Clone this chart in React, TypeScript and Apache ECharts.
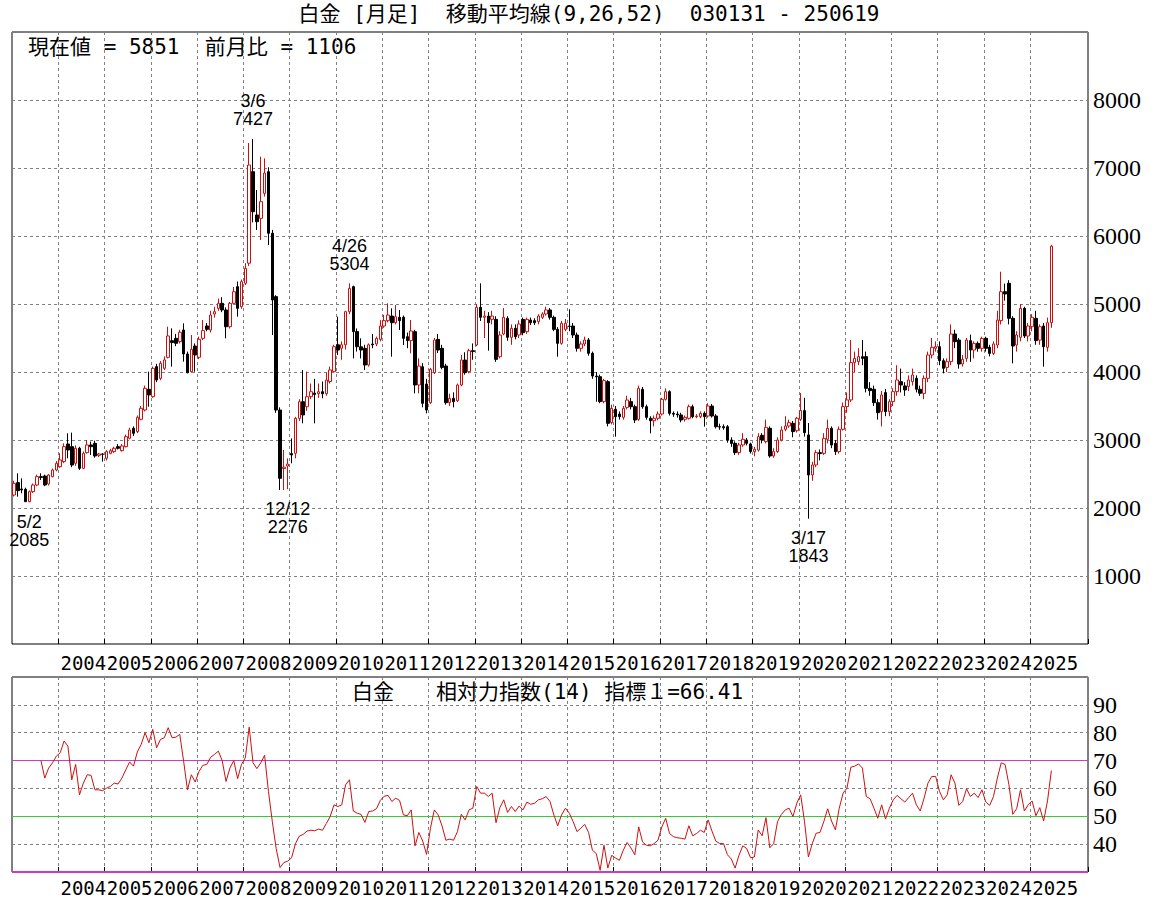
import React, { useEffect, useRef } from "react";
import * as echarts from "echarts";

// ---- data: monthly candles [open, close, low, high] ----
const y2003 = [
  [2191, 2363, 2170, 2400], [2373, 2255, 2167, 2510], [2280, 2265, 2216, 2436], [2275, 2093, 2090, 2300],
  [2093, 2240, 2085, 2260], [2240, 2338, 2220, 2360], [2338, 2461, 2320, 2490], [2461, 2450, 2412, 2510],
  [2471, 2338, 2320, 2490], [2353, 2485, 2330, 2500], [2461, 2559, 2450, 2580], [2559, 2657, 2540, 2690],
];
const y2004 = [
  [2608, 2706, 2590, 2804], [2682, 2902, 2660, 2951], [2941, 2853, 2731, 3098], [2902, 2632, 2600, 3108],
  [2657, 2878, 2620, 2920], [2878, 2584, 2559, 2900], [2584, 2804, 2570, 2830], [2814, 2927, 2800, 3000],
  [2927, 2902, 2779, 2976], [2951, 2765, 2740, 2990], [2775, 2794, 2750, 2810], [2794, 2790, 2682, 2804],
];
const y2005 = [
  [2731, 2829, 2700, 2850], [2804, 2843, 2790, 2870], [2829, 2878, 2810, 2900], [2902, 2878, 2860, 2940],
  [2843, 2912, 2830, 2940], [2902, 3049, 2890, 3080], [3025, 3147, 3010, 3180], [3172, 3098, 3060, 3200],
  [3123, 3333, 3100, 3360], [3304, 3466, 3290, 3500], [3441, 3760, 3420, 3800], [3745, 3662, 3490, 4005],
];
const y2006 = [
  [3637, 4054, 3620, 4080], [4079, 3883, 3850, 4120], [3907, 4128, 3880, 4160], [4054, 4177, 4030, 4230],
  [4216, 4530, 4200, 4667], [4461, 4432, 4079, 4642], [4495, 4422, 4380, 4560], [4446, 4584, 4420, 4620],
  [4618, 4265, 4152, 4716], [4265, 3990, 3980, 4300], [4005, 4334, 3990, 4544], [4382, 4250, 4005, 4420],
];
const y2007 = [
  [4216, 4481, 4190, 4520], [4495, 4608, 4470, 4765], [4677, 4628, 4600, 4720], [4618, 4838, 4580, 4900],
  [4853, 4887, 4800, 4960], [4936, 5010, 4900, 5080], [5010, 4912, 4880, 5100], [4912, 4666, 4495, 4950],
  [4666, 5010, 4640, 5030], [5010, 5181, 4990, 5250], [5255, 4936, 4814, 5330], [4960, 5328, 4930, 5360],
];
const y2008 = [
  [5304, 5525, 5280, 5600], [5600, 7044, 5560, 7368], [6946, 6357, 6200, 7427], [6309, 6210, 6088, 6676],
  [6260, 6505, 5941, 7167], [6627, 6925, 6580, 7142], [6946, 6040, 5868, 7010], [6040, 5059, 4544, 6090],
  [5108, 3441, 3400, 5130], [3441, 2437, 2265, 3480], [2580, 2600, 2265, 2853], [2617, 2647, 2276, 2730],
];
const y2009 = [
  [2800, 2780, 2657, 3024], [2804, 3319, 2730, 3340], [3319, 3563, 3280, 3600], [3563, 3368, 3245, 4029],
  [3490, 3637, 3430, 4005], [3637, 3710, 3600, 3830], [3690, 3670, 3245, 3900], [3680, 3710, 3620, 3830],
  [3710, 3680, 3613, 3860], [3680, 3882, 3650, 3990], [3860, 4030, 3830, 4080], [4005, 4372, 3990, 4400],
];
const y2010 = [
  [4400, 4323, 4250, 4814], [4350, 4400, 4180, 4450], [4400, 4887, 4330, 4900], [4887, 5230, 4850, 5304],
  [5255, 4594, 4201, 5270], [4594, 4372, 4300, 4640], [4370, 4323, 4200, 4495], [4348, 4103, 4029, 4400],
  [4103, 4400, 4080, 4420], [4411, 4400, 4350, 4560], [4412, 4495, 4380, 4520], [4480, 4676, 4450, 4764],
];
const y2011 = [
  [4676, 4755, 4650, 4840], [4755, 4838, 4730, 5010], [4823, 4725, 4225, 4936], [4725, 4813, 4700, 4985],
  [4804, 4755, 4617, 4912], [4804, 4495, 4397, 4830], [4519, 4461, 4350, 4580], [4461, 4603, 4274, 4765],
  [4593, 3809, 3686, 4620], [3809, 4088, 3686, 4201], [4078, 3539, 3480, 4130], [3823, 3441, 3392, 3900],
];
const y2012 = [
  [3549, 4039, 3530, 4060], [3990, 4470, 3970, 4500], [4480, 4323, 4280, 4560], [4348, 4068, 4040, 4400],
  [4088, 3549, 3520, 4120], [3549, 3612, 3500, 3680], [3612, 3563, 3480, 3700], [3578, 3809, 3560, 3830],
  [3809, 4176, 3790, 4250], [4176, 3990, 3960, 4290], [4005, 4313, 3980, 4340], [4313, 4300, 4180, 4420],
];
const y2013 = [
  [4397, 4951, 4380, 5000], [4951, 4804, 4750, 5304], [4804, 4823, 4500, 4900], [4823, 4725, 4313, 4880],
  [4774, 4823, 4700, 4900], [4774, 4186, 4150, 4820], [4225, 4544, 4200, 4600], [4559, 4804, 4540, 4940],
  [4789, 4510, 4460, 4820], [4510, 4642, 4400, 4700], [4642, 4519, 4480, 4700], [4544, 4706, 4500, 4760],
];
const y2014 = [
  [4774, 4578, 4540, 4800], [4593, 4774, 4560, 4800], [4764, 4725, 4690, 4800], [4755, 4725, 4690, 4790],
  [4740, 4823, 4700, 4850], [4804, 4853, 4780, 4880], [4853, 4912, 4830, 4960], [4912, 4804, 4770, 4940],
  [4804, 4627, 4600, 4830], [4627, 4421, 4225, 4660], [4422, 4716, 4400, 4750], [4627, 4716, 4600, 4780],
];
const y2015 = [
  [4676, 4670, 4600, 4922], [4676, 4544, 4500, 4720], [4544, 4348, 4300, 4580], [4348, 4412, 4300, 4450],
  [4412, 4471, 4380, 4520], [4471, 4275, 4240, 4500], [4275, 3941, 3900, 4300], [3941, 3930, 3564, 4000],
  [3931, 3564, 3540, 3960], [3564, 3873, 3540, 3900], [3858, 3245, 3200, 3880], [3255, 3466, 3230, 3520],
];
const y2016 = [
  [3451, 3343, 3049, 3500], [3382, 3343, 3300, 3420], [3333, 3466, 3300, 3500], [3480, 3588, 3450, 3650],
  [3564, 3490, 3450, 3620], [3490, 3294, 3250, 3520], [3304, 3760, 3280, 3800], [3745, 3490, 3460, 3780],
  [3490, 3333, 3300, 3520], [3319, 3284, 3098, 3350], [3284, 3319, 3200, 3360], [3319, 3382, 3290, 3420],
];
const y2017 = [
  [3382, 3598, 3360, 3620], [3598, 3711, 3580, 3760], [3711, 3392, 3360, 3730], [3392, 3380, 3340, 3420],
  [3382, 3370, 3330, 3420], [3368, 3294, 3260, 3400], [3304, 3333, 3270, 3360], [3319, 3490, 3300, 3520],
  [3490, 3343, 3320, 3520], [3343, 3353, 3320, 3380], [3343, 3392, 3320, 3420], [3392, 3343, 3196, 3420],
];
const y2018 = [
  [3353, 3500, 3330, 3540], [3500, 3353, 3330, 3530], [3353, 3196, 3170, 3380], [3196, 3190, 3150, 3240],
  [3196, 3180, 3150, 3230], [3196, 3000, 2960, 3220], [3000, 2950, 2900, 3040], [2951, 2814, 2780, 2980],
  [2814, 2927, 2780, 2960], [2927, 3010, 2900, 3100], [3000, 2951, 2920, 3030], [2942, 2829, 2800, 2960],
];
const y2019 = [
  [2829, 2863, 2760, 2900], [2853, 3049, 2830, 3100], [3069, 3000, 2950, 3100], [2976, 3187, 2950, 3300],
  [3172, 2765, 2740, 3200], [2765, 2829, 2740, 2880], [2829, 3000, 2810, 3040], [3000, 3147, 2980, 3200],
  [3157, 3206, 3130, 3350], [3206, 3255, 3180, 3300], [3245, 3123, 3040, 3280], [3137, 3319, 3110, 3340],
];
const y2020 = [
  [3304, 3432, 3280, 3690], [3432, 3108, 3050, 3620], [3074, 2486, 1843, 3250], [2486, 2633, 2400, 2680],
  [2633, 2814, 2600, 2850], [2814, 2800, 2700, 2860], [2804, 3025, 2780, 3100], [3010, 3172, 2950, 3300],
  [3172, 2927, 2880, 3200], [2951, 2829, 2780, 3000], [2829, 3157, 2800, 3200], [3157, 3491, 3140, 3550],
];
const y2021 = [
  [3491, 3589, 3400, 3700], [3589, 4138, 3560, 4470], [4138, 4200, 4000, 4300], [4152, 4226, 4100, 4350],
  [4226, 4200, 4100, 4471], [4226, 3760, 3700, 4300], [3760, 3726, 3650, 3850], [3746, 3549, 3500, 3800],
  [3549, 3402, 3300, 3600], [3417, 3662, 3200, 3720], [3697, 3417, 3350, 3750], [3417, 3564, 3350, 3600],
];
const y2022 = [
  [3564, 3711, 3500, 3760], [3711, 3883, 3650, 4100], [3858, 3809, 3700, 4050], [3795, 3736, 3650, 3850],
  [3785, 3883, 3720, 3950], [3858, 3956, 3800, 4050], [3907, 3746, 3700, 3950], [3746, 3687, 3650, 3800],
  [3686, 3907, 3600, 3950], [3907, 4250, 3850, 4300], [4250, 4363, 4200, 4500], [4348, 4372, 4300, 4450],
];
const y2023 = [
  [4372, 4166, 4100, 4450], [4166, 4054, 3980, 4200], [4068, 4152, 4000, 4200], [4152, 4559, 4100, 4700],
  [4559, 4446, 4350, 4620], [4470, 4117, 4050, 4500], [4117, 4186, 4080, 4250], [4201, 4470, 4150, 4500],
  [4461, 4323, 4150, 4550], [4323, 4421, 4200, 4450], [4421, 4348, 4300, 4450], [4348, 4495, 4300, 4520],
];
const y2024 = [
  [4495, 4348, 4300, 4520], [4363, 4274, 4230, 4400], [4274, 4412, 4250, 4450], [4397, 4764, 4350, 4900],
  [4755, 5181, 4700, 5475], [5181, 5147, 5050, 5300], [5304, 4789, 4700, 5350], [4789, 4382, 4127, 4820],
  [4397, 4544, 4300, 4600], [4510, 4936, 4450, 5000], [4936, 4529, 4500, 4960], [4529, 4676, 4450, 4720],
];
const y2025 = [
  [4666, 4804, 4600, 4850], [4789, 4461, 4400, 4900], [4470, 4666, 4400, 4700], [4676, 4372, 4078, 4720],
  [4363, 4725, 4300, 4800], [4725, 5851, 4650, 5870],
];

// ---- RSI(14) ----
const rsiStartIndex = 7;
const rsiA = [
  70, 63.7, 67.3, 69.2, 71.6, 72.8, 77.0, 75.2, 63.1, 68.6, 57.7, 61.9, 64.9, 64.7, 59.5, 59.5, 59.2, 60.1,
  60.7, 61.9, 61.6, 63.7, 66.7, 69.5, 68, 73.1, 75.8, 80, 76.4, 81.2, 74.6, 77.6, 78.2, 81.8, 78.2, 78.4,
  79.4, 69.8, 59.5, 64.9, 62.3, 66.1, 68.3, 68.6, 71.2, 72.2, 73.4, 70, 62.5, 67.3, 70, 63.5, 68.6, 71, 82,
  69.2, 67.1, 69.2, 71.9, 58.9, 48.1, 38.4, 31.6, 33.4, 33.9, 35.1, 40.2, 42.9, 43.5, 44.7, 45, 44.8, 45.4,
  45, 47.4, 49.9, 54.1, 53.5, 54.1, 61.3, 63.1, 51.9, 51.1, 50.7, 47.8, 51.7, 51.9, 52.7,
];
const rsiB = [
  55.7, 57.2, 57.5, 55.3, 56.5, 55.7, 50.5, 50.2, 52.3, 39.4, 44.2, 41.1, 36.3, 45.7, 52.3, 50.5, 46.6, 41.4,
  41.8, 41.4, 44.5, 50.7, 48.7, 52.3, 52.9, 60.7, 58.3, 58.3, 57.1, 58.3, 47.7, 53.1, 55.9, 51.4, 53.5, 51.7,
  53.7, 52.3, 55.1, 54.3, 54.7, 55.9, 56.3, 57.1, 55.3, 50.5, 46.6, 50.5, 52.9, 51.1, 48.1, 44.5, 45.7, 47.1,
  44.2, 37.8, 36.6, 30.6, 39.6, 31.4, 36, 35, 34.2, 37.8, 40.6, 38.6, 36.2, 46.2, 40.8, 39.6, 39.4, 40.2,
  41.4, 46.2, 49.3, 43.8, 42.7, 42.3, 42.1, 41.8, 46.6, 43, 43.8, 45, 44.2, 48.7, 44.7, 41.1, 40.2, 40.2,
  36.2, 34.7, 31.4, 36, 39.4,
];
const rsiC = [
  38.4, 35.1, 35.4, 45.1, 43, 49.5, 38.7, 40.2, 48.1, 50.7, 52.3, 52.9, 49.9, 54.7, 57.7, 48.1, 35.4, 40.2,
  43.9, 44.2, 48.1, 52.7, 48.3, 45.1, 52.9, 58.3, 60.1, 67.6, 68, 68.8, 67.3, 57.1, 56.3, 52.9, 49.3, 54.1,
  49, 52.9, 55.9, 57.5, 56.3, 55.1, 56.7, 58.3, 54.1, 51.9, 56.5, 61.9, 64.3, 64.3, 58.9, 55.9, 57.7, 64.9,
  61.9, 53.9, 55.3, 59.9, 57.1, 58.3, 56.7, 59.5, 55.1, 53.9, 57.1, 63.7, 69.2, 68.6, 61.3, 50.7, 52.7, 59.5,
  51.9, 54.1, 55.5, 50.2, 53.1, 48.3, 55.5, 66.41,
];

// ---- annotations (index into months, value, date text) ----
const extremes = [
  { index: 4, value: 2085, date: "5/2", side: "low" },
  { index: 62, value: 7427, date: "3/6", side: "high" },
  { index: 71, value: 2276, date: "12/12", side: "low" },
  { index: 87, value: 5304, date: "4/26", side: "high" },
  { index: 206, value: 1843, date: "3/17", side: "low" },
];

const currentValue = 5851;
const monthChange = 1106;
const rsiLast = 66.41;
const titleText = "白金 [月足]  移動平均線(9,26,52)  030131 - 250619";

const startYear = 2003;
const slotCount = 279;

const textFont = '"DejaVu Sans Mono", "Noto Sans CJK JP"';

export default function App() {
  const ref = useRef<HTMLDivElement>(null);

  useEffect(() => {
    const chart = echarts.init(ref.current as HTMLDivElement, null, { renderer: "svg" });

    const candles = [
      ...y2003, ...y2004, ...y2005, ...y2006, ...y2007, ...y2008, ...y2009, ...y2010,
      ...y2011, ...y2012, ...y2013, ...y2014, ...y2015, ...y2016, ...y2017, ...y2018,
      ...y2019, ...y2020, ...y2021, ...y2022, ...y2023, ...y2024, ...y2025,
    ];
    const months: string[] = [];
    for (let k = 0; k < slotCount; k++) {
      months.push(`${startYear + Math.floor(k / 12)}/${(k % 12) + 1}`);
    }
    const rsiValues: (number | string)[] = [];
    for (let k = 0; k < rsiStartIndex; k++) rsiValues.push("-");
    rsiValues.push(...rsiA, ...rsiB, ...rsiC);

    const lastIdx = candles.length - 1;
    const yearTick = (i: number) => i % 12 === 0 && i > 0 && i <= Math.floor(lastIdx / 12) * 12;
    const yearLabel = (i: number) => i % 12 === 6 && i >= 18 && i <= lastIdx + 6;
    const dash = { color: "#808080", type: [3, 3] as any, width: 1 };

    const gridL = 12;
    const gridW = 1076;

    const xAxisFor = (g: number, margin: number) => ({
      type: "category" as const,
      gridIndex: g,
      data: months,
      boundaryGap: true,
      axisLine: { show: false },
      axisTick: { show: true, inside: true, length: 5, interval: yearTick, lineStyle: { color: "#000" } },
      axisLabel: {
        interval: yearLabel,
        formatter: (v: string) => v.split("/")[0],
        fontFamily: "DejaVu Sans Mono",
        fontSize: 19,
        color: "#000",
        margin,
      },
      splitLine: { show: true, interval: yearTick, lineStyle: dash },
    });

    const yLabel = {
      showMinLabel: false,
      showMaxLabel: false,
      fontFamily: "Liberation Serif",
      fontSize: 24,
      color: "#000",
      margin: 5,
      formatter: (v: number) => String(v),
    };

    const markData = extremes.map((e) => ({
      coord: [months[e.index], e.value],
      label: {
        show: true,
        position: e.side === "high" ? "top" : "bottom",
        distance: 10,
        formatter: `${e.date}\n${e.value}`,
      },
    }));

    const option: any = {
      animation: false,
      backgroundColor: "#ffffff",
      grid: [
        { left: gridL, top: 32, width: gridW, height: 612, show: true, borderColor: "#000", borderWidth: 1, backgroundColor: "#fff" },
        { left: gridL, top: 677, width: gridW, height: 195, show: true, borderColor: "#000", borderWidth: 1, backgroundColor: "#fff" },
      ],
      xAxis: [xAxisFor(0, 9), xAxisFor(1, 6)],
      yAxis: [
        {
          type: "value", gridIndex: 0, position: "right", min: 0, max: 9000, interval: 1000,
          axisLine: { show: false }, axisTick: { show: false },
          axisLabel: yLabel,
          splitLine: { show: true, lineStyle: dash },
        },
        {
          type: "value", gridIndex: 1, position: "right", min: 30, max: 100, interval: 10,
          axisLine: { show: false }, axisTick: { show: false },
          axisLabel: yLabel,
          splitLine: { show: true, lineStyle: dash },
        },
      ],
      series: [
        {
          type: "candlestick",
          xAxisIndex: 0,
          yAxisIndex: 0,
          data: candles,
          barWidth: 3,
          itemStyle: {
            color: "#ffffff",
            color0: "#000000",
            borderColor: "#cc1010",
            borderColor0: "#000000",
            borderColorDoji: "#000000",
            borderWidth: 1,
          },
          markPoint: {
            symbol: "rect",
            symbolSize: 1,
            itemStyle: { color: "rgba(0,0,0,0)" },
            label: { color: "#000", fontSize: 18, lineHeight: 18, fontFamily: "Liberation Sans" },
            data: markData,
          },
        },
        {
          type: "line",
          xAxisIndex: 1,
          yAxisIndex: 1,
          data: rsiValues,
          symbol: "none",
          lineStyle: { color: "#cc1010", width: 1 },
          z: 5,
          markLine: {
            silent: true,
            symbol: "none",
            label: { show: false },
            data: [
              { yAxis: 70, lineStyle: { color: "#c83cc8", type: "solid", width: 1.2 } },
              { yAxis: 50, lineStyle: { color: "#3cc83c", type: "solid", width: 1.2 } },
              { yAxis: 30, lineStyle: { color: "#c83cc8", type: "solid", width: 2 } },
            ],
          },
        },
      ],
      graphic: [
        {
          type: "text", x: 589, y: 14,
          style: { text: titleText, fontSize: 21, fontFamily: textFont, fill: "#000", textAlign: "center", textVerticalAlign: "middle" },
        },
        {
          type: "text", x: 28, y: 47,
          style: { text: `現在値 = ${currentValue}  前月比 = ${monthChange}`, fontSize: 21, fontFamily: textFont, fill: "#000", textAlign: "left", textVerticalAlign: "middle" },
        },
        {
          type: "text", x: 352, y: 692,
          style: { text: `白金　　相対力指数(14) 指標１=${rsiLast}`, fontSize: 21, fontFamily: textFont, fill: "#000", textAlign: "left", textVerticalAlign: "middle" },
        },
      ],
    };

    chart.setOption(option);
    return () => chart.dispose();
  }, []);

  return (
    <div
      ref={ref}
      style={{ position: "absolute", left: 0, top: 0, width: 1171, height: 902, background: "#fff" }}
    />
  );
}
